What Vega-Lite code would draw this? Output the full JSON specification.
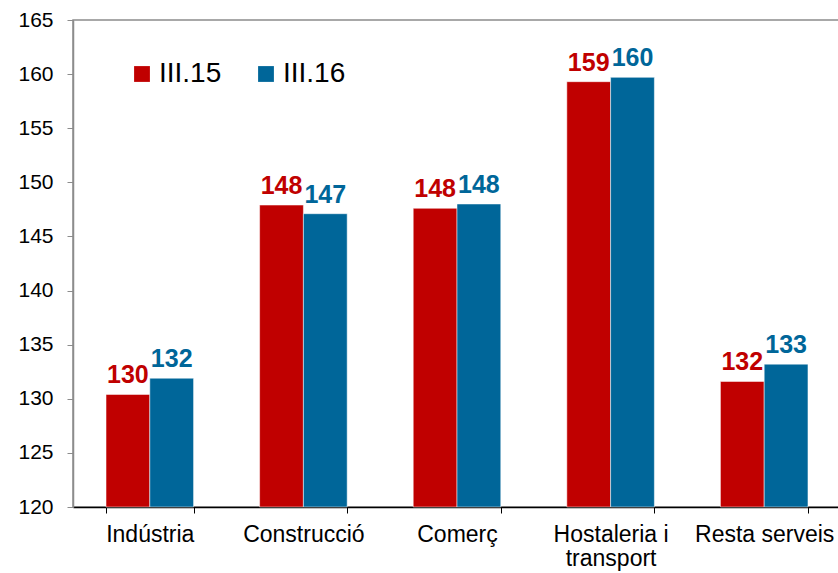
{
  "$schema": "https://vega.github.io/schema/vega-lite/v6.json",
  "autosize": "none",
  "padding": {"left": 73, "top": 20, "right": 0, "bottom": 66},
  "width": 768,
  "height": 487,
  "background": "white",
  "config": {
    "view": {"stroke": "#8c8c8c", "strokeWidth": 1.5},
    "font": "Liberation Sans"
  },
  "data": {
    "values": [
      {"sector": "Indústria", "periode": "III.15", "valor": 130.4},
      {"sector": "Indústria", "periode": "III.16", "valor": 131.9},
      {"sector": "Construcció", "periode": "III.15", "valor": 147.9},
      {"sector": "Construcció", "periode": "III.16", "valor": 147.1},
      {"sector": "Comerç", "periode": "III.15", "valor": 147.6},
      {"sector": "Comerç", "periode": "III.16", "valor": 148.0},
      {"sector": "Hostaleria i|transport", "periode": "III.15", "valor": 159.3},
      {"sector": "Hostaleria i|transport", "periode": "III.16", "valor": 159.7},
      {"sector": "Resta serveis", "periode": "III.15", "valor": 131.6},
      {"sector": "Resta serveis", "periode": "III.16", "valor": 133.2}
    ]
  },
  "encoding": {
    "x": {
      "field": "sector", "type": "nominal", "sort": null,
      "scale": {"paddingInner": 0.43, "paddingOuter": 0.215},
      "axis": {
        "title": null, "labelAngle": 0, "labelFontSize": 23, "labelColor": "#000000",
        "labelExpr": "split(datum.label, '|')", "labelLineHeight": 24,
        "labelPadding": 10, "tickBand": "extent", "tickSize": 6, "tickColor": "#000000",
        "domainColor": "#000000", "domainWidth": 1.5, "labelBaseline": "top"
      }
    },
    "xOffset": {"field": "periode", "type": "nominal", "scale": {"paddingInner": 0, "paddingOuter": 0}},
    "y": {
      "field": "valor", "type": "quantitative",
      "scale": {"domain": [120, 165], "zero": false, "nice": false},
      "axis": {
        "title": null, "values": [120, 125, 130, 135, 140, 145, 150, 155, 160, 165],
        "grid": false, "labelFontSize": 21, "labelColor": "#000000", "labelPadding": 14,
        "tickSize": 6, "tickColor": "#8c8c8c", "domainColor": "#8c8c8c", "domainWidth": 1.5
      }
    },
    "color": {
      "field": "periode", "type": "nominal",
      "scale": {"domain": ["III.15", "III.16"], "range": ["#C00000", "#006699"]},
      "legend": {
        "title": null, "orient": "none", "direction": "horizontal",
        "legendX": 55, "legendY": 40, "symbolType": "square", "symbolSize": 250,
        "symbolStrokeWidth": 0, "labelFontSize": 28, "labelColor": "#000000",
        "columnPadding": 30, "labelOffset": 3
      }
    }
  },
  "layer": [
    {"mark": {"type": "bar", "stroke": "#ffffff", "strokeWidth": 0.5}, "encoding": {"y2": {"datum": 120}}},
    {
      "mark": {"type": "text", "baseline": "alphabetic", "dy": -11, "fontSize": 25, "fontWeight": "bold"},
      "encoding": {"text": {"field": "valor", "type": "quantitative", "format": ".0f"}}
    }
  ]
}
